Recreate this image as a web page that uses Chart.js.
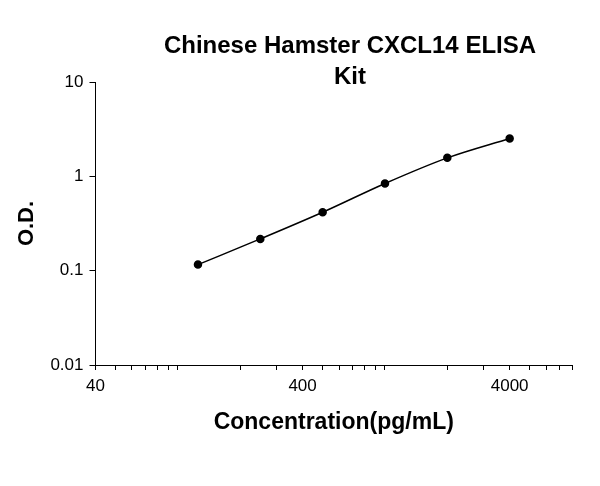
<!DOCTYPE html><html><head><script src="https://cdn.jsdelivr.net/npm/chart.js"></script>
<style>html,body{margin:0;background:#fff}#w{width:600px;height:486px}</style></head><body><div id="w"><canvas id="c"></canvas></div>
<script>
const concentrations=[125,250,500,1000,2000,4000];
const odValues=[0.116,0.217,0.416,0.84,1.57,2.52];
const xTickLabels=[40,400,4000];
const yTickLabels=[0.01,0.1,1,10];
const xTicks=[40,50,60,70,80,90,100,200,300,400,500,600,700,800,900,1000,2000,3000,4000,5000,6000,7000,8000];
const titleLines=['Chinese Hamster CXCL14 ELISA','Kit'];
const F='"Liberation Sans", Arial, sans-serif';
const titlePlugin={id:'t',afterDraw(ch){const c=ch.ctx;c.save();c.font='bold 24px '+F;c.fillStyle='#000';c.textAlign='center';c.textBaseline='middle';
titleLines.forEach((t,i)=>c.fillText(t,350,46+i*31));c.restore();}};
new Chart(document.getElementById('c'),{type:'line',plugins:[titlePlugin],
data:{datasets:[{data:concentrations.map((x,i)=>({x,y:odValues[i]})),borderColor:'#000',backgroundColor:'#000',borderWidth:1.5,pointRadius:3.5,tension:0.4,cubicInterpolationMode:'monotone'}]},
options:{responsive:true,maintainAspectRatio:false,animation:false,
layout:{padding:{left:10,right:28,top:82,bottom:46}},
plugins:{legend:{display:false},tooltip:{enabled:false},title:{display:false}},
scales:{
x:{type:'logarithmic',min:40,max:8000,afterBuildTicks:a=>{a.ticks=xTicks.map(v=>({value:v}))},
ticks:{autoSkip:false,maxRotation:0,color:'#000',font:{family:F,size:17},padding:6,callback:v=>xTickLabels.includes(v)?String(v):''},
grid:{drawOnChartArea:false,color:'#000',tickLength:5},border:{color:'#000',width:1},
title:{display:true,text:'Concentration(pg/mL)',font:{family:F,size:23,weight:'bold'},color:'#000',padding:{top:6}}},
y:{type:'logarithmic',min:0.01,max:10,afterBuildTicks:a=>{a.ticks=yTickLabels.map(v=>({value:v}))},
ticks:{color:'#000',font:{family:F,size:17},padding:6,callback:v=>String(v)},
grid:{drawOnChartArea:false,color:'#000',tickLength:6},border:{color:'#000',width:1},
title:{display:true,text:'O.D.',font:{family:F,size:22,weight:'bold'},color:'#000',padding:{bottom:4}}}}}});
</script></body></html>
